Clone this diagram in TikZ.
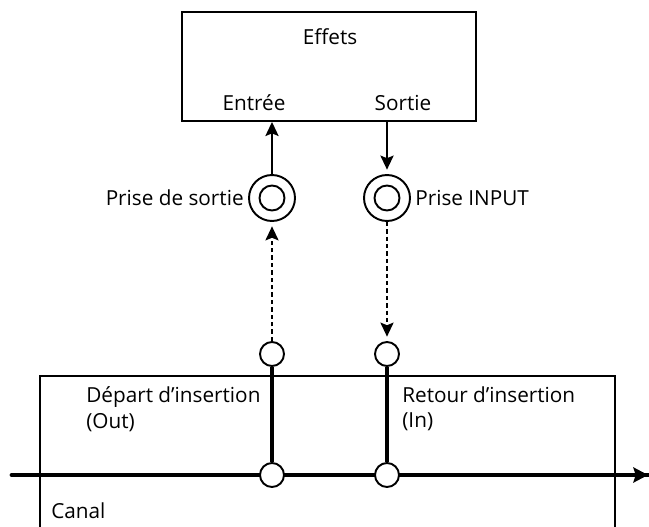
\documentclass[tikz,border=0pt]{standalone}
\usepackage{fontspec}
\setmainfont{Open Sans}
\usetikzlibrary{arrows.meta}

\begin{document}
\begin{tikzpicture}[
    x=0.02cm, y=-0.02cm,
    font=\fontsize{11.8}{14.5}\selectfont,
    box/.style={draw, line width=1.1pt, minimum width=5.88cm,
                minimum height=2.18cm},
    jack/.style={circle, draw, line width=1.1pt, minimum size=0.92cm,
                 inner sep=0pt, path picture={\draw[line width=1.1pt]
                 (path picture bounding box.center) circle (0.25cm);}},
    tap/.style={circle, draw, fill=white, line width=1.1pt,
                minimum size=0.48cm, inner sep=0pt},
    flow/.style={-{Stealth[length=8pt, width=7.5pt, inset=1.5pt]},
                 line width=1.1pt},
    patch/.style={-{Stealth[length=8pt, width=7.5pt, inset=1.5pt]},
                  line width=1pt, dash pattern=on 2.5pt off 1.7pt},
    bus/.style={line width=2.8pt},
    note/.style={align=left, inner sep=0pt},
]
    \useasboundingbox (0,0) rectangle (649,527);

    \node[box] (effets) at (329,66.5) {};
    \node[note] (titre) at (330,37) {Effets};
    \node[note] (entree) at (254,103) {Entrée};
    \node[note] (sortie) at (403,103) {Sortie};

    \node[jack] (jackout) at (272,198) {};
    \node[jack] (jackin) at (387,198) {};
    \node[note, anchor=east] (priseout) at (244,198) {Prise de sortie};
    \node[note, anchor=west] (prisein) at (415,198) {Prise INPUT};

    \draw[line width=1.1pt] (40,527) -- (40,376) -- (615,376) -- (615,527);
    \node[note, anchor=west] (depart) at (86,409)
        {Départ d’insertion\\(Out)};
    \node[note, anchor=west] (retour) at (402,409)
        {Retour d’insertion\\(In)};
    \node[note, anchor=west] (canal) at (51,511) {Canal};

    \coordinate (busin) at (12,475);
    \coordinate (busout) at (648,475);
    \draw[bus, line cap=round] (busin) -- (busout);
    \draw[-{Stealth[length=8.5pt, width=9pt, inset=1.5pt]}, line width=0pt]
        (busout) ++(-2,0) -- (busout);

    \node[tap] (sendtop) at (272,354) {};
    \node[tap] (returntop) at (387,354) {};
    \node[tap] (send) at (272,475) {};
    \node[tap] (return) at (387,475) {};
    \draw[bus] (sendtop) -- (send);
    \draw[bus] (returntop) -- (return);

    \draw[flow] (jackout) -- (jackout |- effets.south);
    \draw[flow, shorten >=2.5pt] (jackin |- effets.south) -- (jackin);
    \draw[patch, shorten >=2.5pt] (sendtop) -- (jackout);
    \draw[patch, shorten >=2.5pt] (jackin) -- (returntop);

\end{tikzpicture}
\end{document}
